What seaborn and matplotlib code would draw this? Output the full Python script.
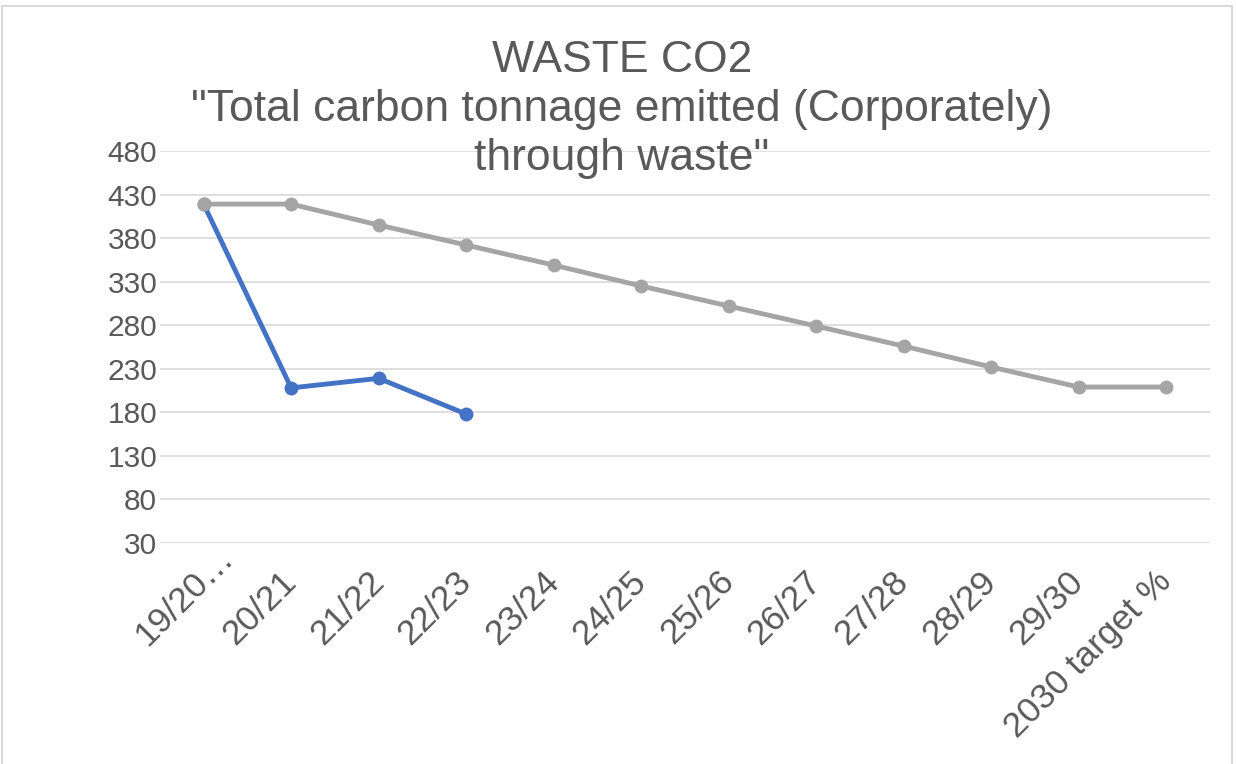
import pandas as pd
import seaborn as sns
import matplotlib.pyplot as plt
from matplotlib.patches import Rectangle
from matplotlib.transforms import ScaledTranslation

# Data
years = ['19/20…', '20/21', '21/22', '22/23', '23/24', '24/25', '25/26',
         '26/27', '27/28', '28/29', '29/30', '2030 target %']
actual = [419, 208, 219, 178]
target = [419, 419, 395, 372, 349, 325, 302, 279, 256, 232, 209, 209]

df = pd.concat([
    pd.DataFrame({'year': years[:len(actual)], 'co2': actual, 'series': 'Actual'}),
    pd.DataFrame({'year': years, 'co2': target, 'series': 'Target'}),
])

sns.set_style('white')
plt.rcParams['font.family'] = ['Liberation Sans', 'DejaVu Sans']
text_col = '#595959'

fig = plt.figure(figsize=(12.36, 7.64), dpi=100)
ax = fig.add_axes([0.1294, 0.2893, 0.8494, 0.5131])

sns.lineplot(data=df, x='year', y='co2', hue='series', hue_order=['Actual', 'Target'],
             palette={'Actual': '#4472C4', 'Target': '#A5A5A5'}, sort=False,
             marker='o', markersize=10, markeredgewidth=0, linewidth=3.5,
             legend=False, ax=ax)

ax.set_xlim(-0.5, len(years) - 0.5)
ax.set_ylim(30, 480)
ax.set_yticks(range(30, 481, 50))
ax.set_xticks(range(len(years)))
ax.set_xticklabels(years, rotation=45, ha='right', va='center', rotation_mode='anchor')
ax.set_xlabel('')
ax.set_ylabel('')
ax.grid(axis='y', color='#D9D9D9', linewidth=1.2)
ax.set_axisbelow(True)
for s in ax.spines.values():
    s.set_visible(False)
ax.tick_params(axis='both', length=0, colors=text_col)
ax.tick_params(axis='y', pad=2, labelsize=21.5)
ax.tick_params(axis='x', pad=24, labelsize=25.5)

# the truncated first label overflows past its tick, as in the original
first = ax.get_xticklabels()[0]
first.set_transform(first.get_transform() + ScaledTranslation(0.24, 0.24, fig.dpi_scale_trans))

fig.text(0.503, 0.857, 'WASTE CO2\n"Total carbon tonnage emitted (Corporately)\nthrough waste"',
         ha='center', va='center', fontsize=32, color=text_col, linespacing=1.25)

# light chart-area border
fig.patches.append(Rectangle((0.002, -0.01), 0.995, 1.002, transform=fig.transFigure,
                             fill=False, edgecolor='#D9D9D9', linewidth=1.5))

fig.savefig('out.png', dpi=100)
